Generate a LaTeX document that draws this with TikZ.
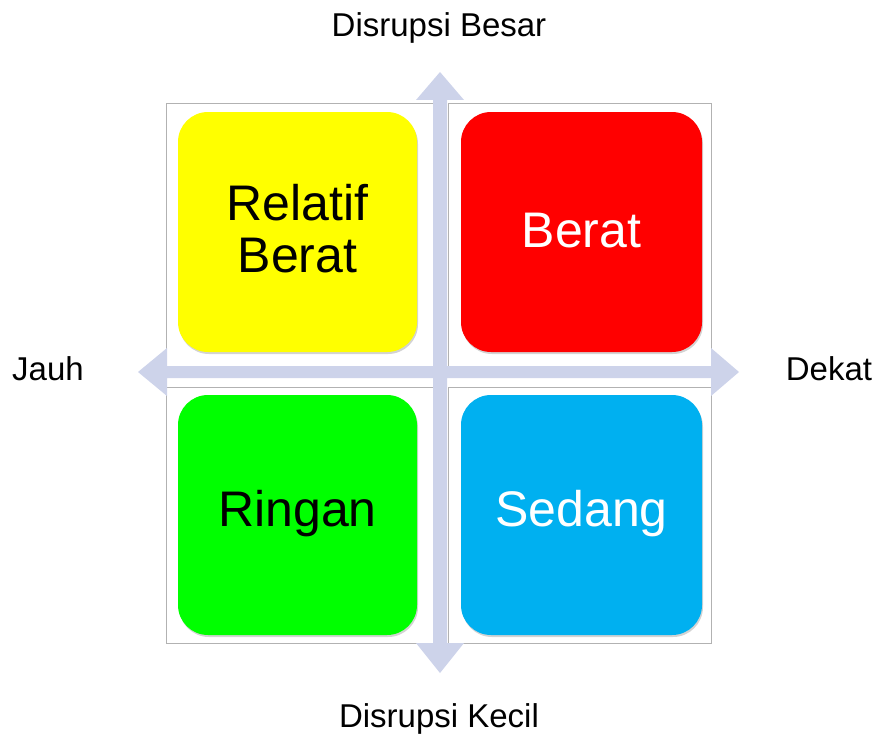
\documentclass[tikz,border=0pt]{standalone}
\usepackage{fontspec}
\setmainfont{Liberation Sans}
\usetikzlibrary{shadows}
\definecolor{arrowfill}{HTML}{CDD3EA}
\definecolor{qyellow}{HTML}{FFFF00}
\definecolor{qred}{HTML}{FF0000}
\definecolor{qgreen}{HTML}{00FF00}
\definecolor{qblue}{HTML}{00B0F0}
\tikzset{
  frame/.style={draw=gray!60, line width=0.9pt},
  tile/.style={rounded corners=30pt, drop shadow={opacity=0.35, shadow xshift=1pt, shadow yshift=-2pt}},
  tiletext/.style={font=\fontsize{50}{52}\selectfont, align=center},
  axislabel/.style={font=\fontsize{33}{36}\selectfont, anchor=base, inner sep=0pt},
}
\begin{document}
\begin{tikzpicture}[x=1pt, y=-1pt]
\useasboundingbox (0,0) rectangle (874,733);
% frames
\draw[frame] (166,103) rectangle (433,366);
\draw[frame] (448,103) rectangle (711,366);
\draw[frame] (166,387) rectangle (433,643);
\draw[frame] (448,387) rectangle (711,643);
% cross arrow
\fill[arrowfill] (440,72) -- (464,100) -- (447,100) -- (447,366) -- (711,366) -- (711,348)
  -- (739,372) -- (711,396) -- (711,378) -- (447,378) -- (447,643) -- (464,643)
  -- (440,673) -- (416,643) -- (433,643) -- (433,378) -- (167,378) -- (167,396)
  -- (138,372) -- (167,348) -- (167,366) -- (433,366) -- (433,100) -- (416,100) -- cycle;
% tiles
\fill[tile, qyellow] (178,112) rectangle (417,352);
\fill[tile, qred] (461,112) rectangle (702,352);
\fill[tile, qgreen] (178,395) rectangle (417,635);
\fill[tile, qblue] (461,395) rectangle (702,635);
\node[tiletext, text=black] (relatif) at (297.5,229) {Relatif\\Berat};
\node[tiletext, text=white] (berat) at (581.5,231) {Berat};
\node[tiletext, text=black] (ringan) at (297.5,514) {Ringan};
\node[tiletext, text=white] (sedang) at (581.5,514) {Sedang};
% axis labels
\node[axislabel] (besar) at (439,37) {Disrupsi Besar};
\node[axislabel] (kecil) at (439,727) {Disrupsi Kecil};
\node[axislabel] (jauh) at (48,380) {Jauh};
\node[axislabel] (dekat) at (829,380) {Dekat};
\end{tikzpicture}
\end{document}
